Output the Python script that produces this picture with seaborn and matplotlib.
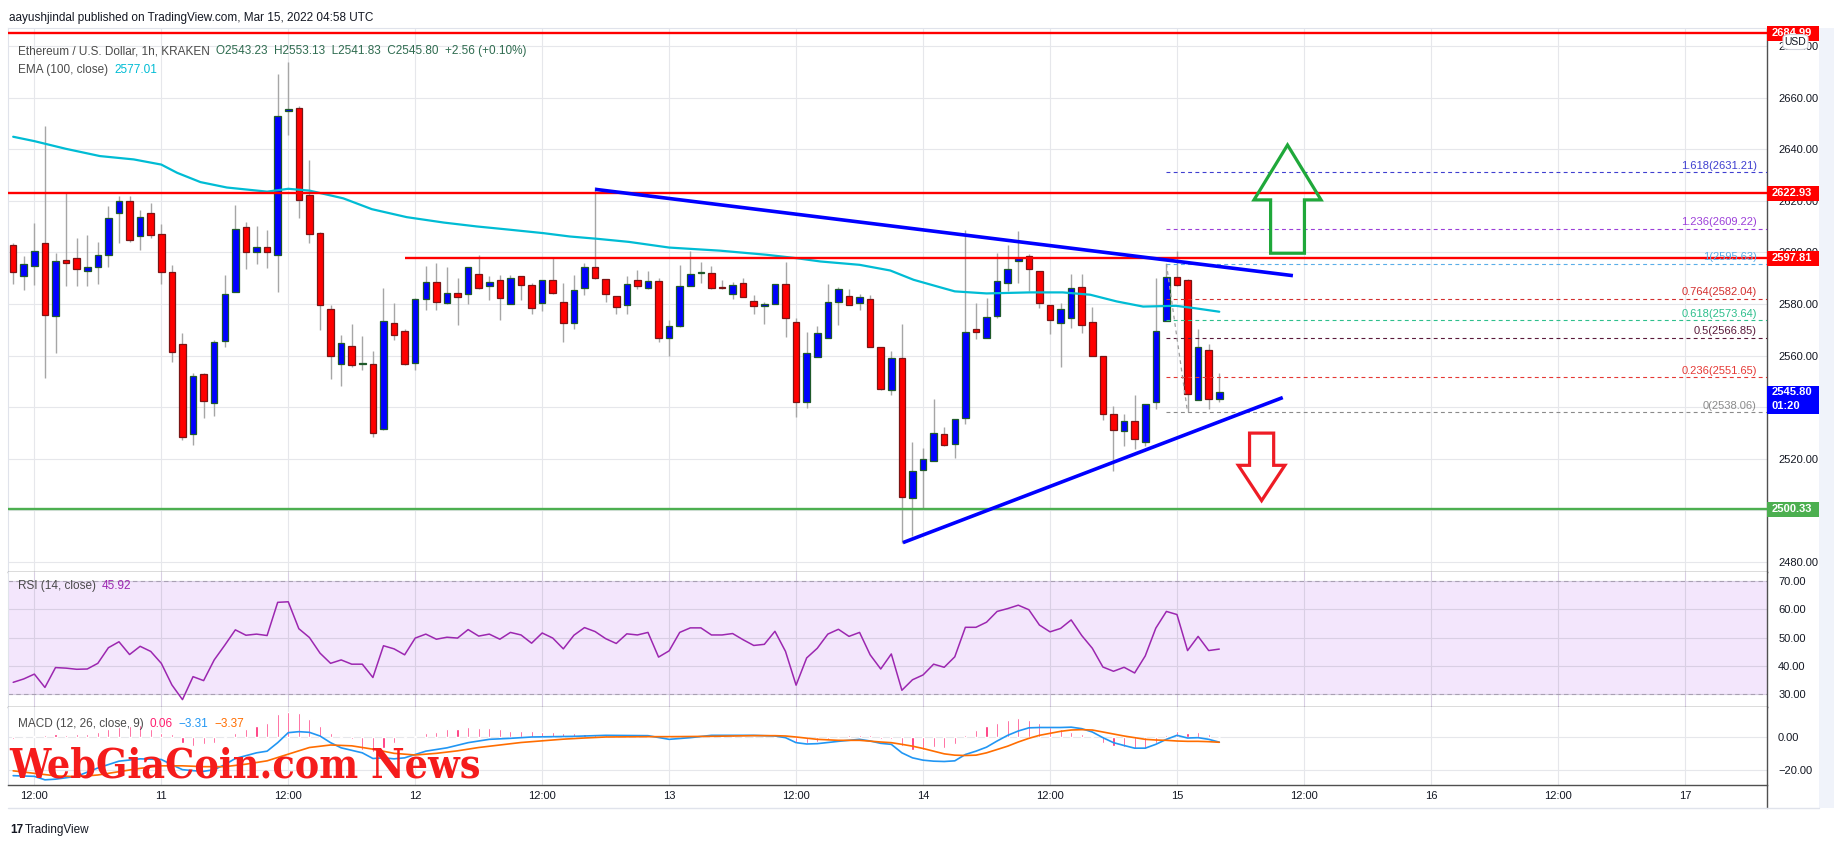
import matplotlib
matplotlib.use("Agg")
import numpy as np
import pandas as pd
import matplotlib.pyplot as plt
from matplotlib import font_manager
from matplotlib.lines import Line2D
from matplotlib.patches import Polygon, Rectangle, FancyBboxPatch
import seaborn as sns

W, H = 1834, 848

# -------------------------
# Data (ETH/USD 1h, Kraken) - hour index counted from Mar 10 00:00 UTC
# -------------------------
first_hour = 10

opens = [2602.7, 2590.9, 2594.7, 2603.5, 2575.3, 2596.9, 2597.9, 2592.9, 2594.4, 2599.1,
         2615.4, 2620.0, 2606.4, 2615.4, 2607.2, 2592.5, 2564.5, 2529.6, 2552.9, 2541.6,
         2565.6, 2584.7, 2609.9, 2600.1, 2602.2, 2599.1, 2654.8, 2656.1, 2622.4, 2607.5,
         2578.0, 2556.8, 2563.7, 2556.8, 2556.8, 2531.6, 2572.6, 2569.5, 2557.1, 2581.9,
         2588.5, 2580.2, 2584.2, 2583.8, 2591.6, 2586.9, 2589.2, 2580.0, 2590.8, 2587.3,
         2580.3, 2589.2, 2580.7, 2572.6, 2586.1, 2594.3, 2589.6, 2583.0, 2579.6, 2589.2,
         2586.1, 2588.8, 2566.8, 2571.4, 2586.9, 2592.0, 2592.0, 2586.5, 2583.8, 2588.1,
         2581.1, 2579.2, 2580.0, 2587.7, 2573.0, 2542.0, 2559.4, 2566.8, 2580.7, 2583.0,
         2580.3, 2581.9, 2563.3, 2546.5, 2559.0, 2504.8, 2515.5, 2519.0, 2529.6, 2525.7,
         2535.8, 2570.3, 2566.8, 2575.3, 2588.1, 2596.6, 2598.7, 2592.7, 2579.6, 2572.6,
         2574.5, 2586.5, 2573.0, 2559.8, 2537.3, 2530.7, 2534.6, 2526.5, 2542.0, 2573.4,
         2590.4, 2589.2, 2542.7, 2562.1, 2543.23]
highs = [2603.7, 2598.8, 2611.5, 2649.0, 2599.8, 2623.6, 2605.8, 2606.6, 2604.2, 2618.0,
         2621.8, 2622.1, 2616.3, 2619.0, 2611.0, 2595.2, 2568.8, 2553.3, 2553.3, 2566.2,
         2591.4, 2618.6, 2612.0, 2610.2, 2608.9, 2669.2, 2674.0, 2657.0, 2635.8, 2608.0,
         2579.6, 2568.1, 2572.3, 2567.4, 2561.9, 2586.4, 2580.5, 2570.4, 2582.3, 2594.8,
         2596.0, 2594.3, 2590.0, 2594.3, 2598.9, 2590.7, 2591.3, 2591.3, 2590.8, 2588.0,
         2589.2, 2597.8, 2588.1, 2591.2, 2595.8, 2625.5, 2589.6, 2583.0, 2590.9, 2593.3,
         2592.9, 2590.0, 2573.9, 2595.2, 2600.6, 2596.4, 2594.7, 2589.4, 2588.5, 2590.2,
         2583.4, 2580.8, 2587.7, 2596.4, 2574.5, 2569.1, 2571.3, 2587.8, 2586.5, 2586.0,
         2584.0, 2583.4, 2563.3, 2561.9, 2572.3, 2526.6, 2524.1, 2543.3, 2532.3, 2535.5,
         2608.8, 2580.3, 2582.4, 2599.8, 2603.0, 2608.4, 2599.5, 2592.7, 2579.6, 2580.3,
         2591.6, 2591.6, 2578.8, 2559.8, 2540.4, 2537.3, 2544.7, 2541.3, 2590.0, 2595.6,
         2600.5, 2589.6, 2570.3, 2564.4, 2553.13]
lows = [2587.6, 2585.4, 2587.2, 2551.3, 2561.0, 2586.9, 2586.9, 2586.9, 2587.7, 2594.2,
        2603.5, 2604.2, 2600.9, 2605.5, 2587.6, 2557.4, 2527.1, 2525.2, 2535.7, 2536.7,
        2563.2, 2584.7, 2593.6, 2595.4, 2593.9, 2584.6, 2645.4, 2613.3, 2603.6, 2570.0,
        2551.0, 2548.0, 2555.4, 2554.2, 2528.4, 2531.0, 2566.0, 2556.2, 2554.2, 2577.5,
        2577.5, 2580.0, 2571.7, 2580.0, 2586.0, 2581.4, 2573.9, 2580.0, 2581.4, 2576.3,
        2577.1, 2584.0, 2565.1, 2570.3, 2583.3, 2589.8, 2580.7, 2576.3, 2576.3, 2585.8,
        2586.0, 2565.1, 2560.0, 2571.0, 2586.9, 2588.1, 2586.0, 2585.8, 2581.9, 2582.7,
        2576.3, 2572.1, 2580.0, 2567.0, 2536.2, 2539.6, 2559.4, 2566.8, 2571.7, 2579.6,
        2577.5, 2563.3, 2546.5, 2544.8, 2487.2, 2490.0, 2500.3, 2519.0, 2524.8, 2520.1,
        2533.4, 2566.4, 2566.8, 2574.5, 2585.0, 2588.1, 2585.0, 2578.4, 2568.3, 2555.5,
        2570.6, 2568.6, 2559.8, 2535.0, 2515.2, 2525.0, 2523.9, 2525.0, 2539.3, 2573.4,
        2587.0, 2538.1, 2542.7, 2539.3, 2541.83]
closes = [2592.5, 2595.6, 2600.6, 2575.7, 2596.7, 2595.8, 2593.6, 2594.4, 2599.1, 2613.4,
          2620.0, 2604.9, 2613.8, 2606.8, 2592.5, 2561.4, 2528.3, 2552.1, 2542.4, 2565.3,
          2583.9, 2609.2, 2600.1, 2602.2, 2600.1, 2652.9, 2655.7, 2620.3, 2607.2, 2579.6,
          2559.8, 2564.8, 2556.2, 2556.9, 2530.1, 2573.4, 2567.9, 2556.7, 2581.9, 2588.5,
          2580.7, 2584.2, 2582.7, 2594.3, 2586.1, 2588.5, 2582.3, 2590.0, 2587.2, 2578.4,
          2589.2, 2584.2, 2572.6, 2585.4, 2594.3, 2590.0, 2583.8, 2578.7, 2587.7, 2586.9,
          2588.8, 2566.8, 2571.4, 2586.9, 2591.6, 2592.1, 2586.1, 2586.1, 2587.3, 2582.8,
          2579.2, 2580.0, 2587.7, 2574.5, 2542.0, 2561.0, 2568.7, 2580.7, 2585.8, 2579.6,
          2582.8, 2563.3, 2547.0, 2559.0, 2505.0, 2515.3, 2519.9, 2530.0, 2525.3, 2535.5,
          2569.1, 2569.1, 2574.9, 2588.8, 2593.5, 2597.8, 2593.5, 2580.3, 2573.8, 2578.0,
          2586.1, 2571.8, 2559.8, 2537.3, 2531.1, 2534.6, 2527.6, 2541.3, 2569.5, 2590.4,
          2587.2, 2545.2, 2563.3, 2543.1, 2545.80]

ema_hours = [10, 12, 15, 18.2, 21.4, 24, 25.5, 27.7, 30.2, 34, 36, 38, 41.2, 43.9, 47.2,
             50.7, 53.8, 57, 60.1, 62.6, 65.2, 68.2, 72, 76.8, 81.2, 84, 86.3, 90, 92.9,
             95.1, 97.6, 99, 102, 106.1, 109.2, 111.8, 114.3, 116.8, 119.9, 121.8, 124]
ema_values = [2644.9, 2643.2, 2640.2, 2637.4, 2636.1, 2634.1, 2630.9, 2627.3, 2625.2, 2623.6,
              2624.7, 2624.0, 2621.0, 2616.8, 2613.7, 2611.6, 2610.1, 2608.8, 2607.5, 2606.2,
              2605.3, 2604.1, 2601.9, 2600.7, 2599.1, 2597.8, 2596.5, 2595.2, 2593.0, 2589.4,
              2586.5, 2584.9, 2584.1, 2584.5, 2584.5, 2583.6, 2581.0, 2579.0, 2579.3, 2578.3,
              2577.0]

rsi_values = [34.2, 35.4, 37.1, 32.4, 39.4, 39.2, 38.8, 38.9, 40.9, 46.4,
              48.5, 44.0, 46.9, 45.1, 40.9, 33.3, 28.1, 36.2, 34.8, 42.1,
              47.3, 52.7, 50.8, 51.2, 50.7, 62.4, 62.6, 53.1, 50.0, 44.5,
              40.9, 42.1, 40.6, 40.6, 35.9, 47.1, 46.0, 43.9, 49.8, 51.2,
              49.4, 50.1, 49.8, 52.8, 50.5, 51.2, 49.4, 51.8, 50.9, 48.0,
              51.6, 49.8, 46.0, 50.8, 53.5, 52.1, 49.6, 47.9, 51.3, 50.9,
              51.8, 43.1, 45.3, 51.8, 53.4, 53.4, 50.9, 50.9, 51.4, 49.2,
              47.2, 47.6, 52.2, 45.1, 33.2, 42.8, 46.2, 51.2, 52.9, 50.4,
              51.8, 43.9, 38.9, 44.2, 31.4, 35.1, 36.8, 40.6, 39.5, 43.2,
              53.6, 53.6, 55.4, 59.2, 60.2, 61.4, 59.8, 54.4, 52.0, 53.2,
              56.2, 50.7, 46.2, 39.6, 38.1, 39.5, 37.5, 43.5, 53.3, 59.2,
              58.1, 45.4, 50.4, 45.4, 45.92]

macd_hist = [-1.6, -0.6, 0.4, 1.0, 1.4, 1.0, 1.4, 1.8, 2.8, 4.4,
             6.1, 6.5, 6.9, 4.8, 2.4, 1.4, -3.6, -5.7, -4.6, -4.0,
             -0.6, 2.4, 4.4, 6.5, 8.1, 13.5, 14.9, 14.1, 10.5, 6.5,
             2.4, 0.4, -1.6, -7.7, -9.3, -6.7, -3.6, -0.6, 0.4, 2.4,
             2.8, 4.4, 4.8, 5.7, 5.5, 5.3, 4.4, 3.6, 3.4, 3.4,
             3.0, 2.8, 2.4, 2.0, 1.6, 1.6, 1.0, 0.8, 0.8, 0.4,
             0.4, -0.4, -0.6, -0.2, 0.2, 0.6, 1.2, 1.2, 1.2, 0.4,
             0.1, -0.1, 0.4, -0.4, -3.6, -4.0, -3.2, -1.6, -0.2, 0.8,
             1.2, 0.8, -1.6, -1.6, -5.3, -7.7, -8.1, -6.3, -6.5, -4.6,
             1.0, 3.8, 6.3, 8.5, 10.3, 11.1, 10.3, 8.5, 6.1, 4.4,
             3.0, 1.4, -0.6, -4.0, -5.7, -6.3, -7.1, -7.1, -3.6, 1.0,
             3.6, 2.4, 2.6, 1.4, 0.06]

macd_hours = [10, 12, 13, 14, 16, 18, 20, 22, 24, 25, 26, 27, 28, 29, 30, 31, 33, 34, 35, 36,
              37, 38, 39, 40, 41, 43, 44, 45, 46, 47, 48, 49, 51, 53, 55, 57, 59, 61, 63, 65,
              66, 70, 72, 74, 76, 80, 82, 83, 84, 85, 86, 88, 90, 91, 92, 93, 94, 95, 96, 97,
              98, 99, 100, 101, 102, 103, 104, 105, 106, 107, 108, 109, 110, 111, 112, 113,
              114, 115, 116, 117, 118, 119, 120, 121, 122, 123, 124]
macd_line = [-23.4, -23.8, -25.9, -25.5, -23.8, -18.8, -14.7, -13.3, -13.7, -16.8, -19.8,
             -20.4, -20.8, -19.8, -16.8, -13.1, -9.7, -8.7, -3.6, 2.4, 3.0, 2.6, 0.4, -3.6,
             -6.7, -9.7, -13.1, -12.7, -13.3, -12.7, -10.7, -8.7, -6.7, -3.6, -1.6, -1.0,
             -0.2, 0.0, 0.2, 0.6, 0.8, 0.6, -1.6, -0.6, 0.8, 0.8, 0.4, -0.6, -3.6, -4.4,
             -4.2, -2.8, -1.6, -2.6, -4.0, -4.6, -9.7, -12.7, -14.1, -14.7, -14.9, -14.5,
             -10.7, -8.7, -6.3, -2.6, 0.8, 3.4, 5.3, 5.5, 5.5, 5.5, 5.7, 4.8, 2.8, -0.6,
             -3.6, -5.3, -6.9, -6.9, -4.6, -1.6, 0.8, -0.8, -0.6, -1.6, -3.31]

signal_hours = [10, 12, 14, 16, 18, 20, 22, 24, 26, 28, 30, 32, 34, 36, 38, 40, 42, 44, 46,
                48, 50, 52, 54, 56, 58, 60, 62, 64, 66, 70, 72, 76, 80, 82, 83, 84, 86, 88,
                90, 92, 93, 94, 95, 96, 97, 98, 99, 100, 101, 102, 103, 104, 105, 106, 107,
                108, 109, 110, 111, 112, 113, 114, 115, 116, 117, 118, 119, 120, 121, 122,
                123, 124]
signal_line = [-20.5, -22.0, -23.5, -24.0, -23.0, -21.0, -19.0, -17.5, -17.5, -18.0, -18.0,
               -16.5, -14.5, -10.5, -6.5, -5.0, -5.5, -7.5, -10.0, -11.0, -10.0, -8.5, -6.5,
               -5.0, -3.5, -2.5, -1.5, -0.8, -0.2, 0.0, 0.0, 0.2, 0.6, 0.6, 0.4, -0.2, -1.6,
               -2.2, -2.2, -3.2, -3.6, -4.6, -5.7, -7.1, -8.7, -10.3, -11.1, -11.3, -11.1,
               -9.7, -7.7, -5.7, -3.2, -1.0, 0.8, 2.0, 3.2, 4.0, 4.2, 4.0, 2.8, 1.6, 0.4,
               -0.6, -1.6, -2.0, -2.2, -2.6, -2.8, -2.8, -3.0, -3.37]

# Drawings on the chart
resistance_levels = [2684.99, 2622.93]
range_top = 2597.81
range_top_start = 47
support_level = 2500.33
upper_trend = ([65, 130.96], [2624.5, 2591.0])
lower_trend = ([94.1, 130.0], [2487.4, 2543.7])

fib_levels = ["1.618", "1.236", "1", "0.764", "0.618", "0.5", "0.236", "0"]
fib_prices = [2631.21, 2609.22, 2595.63, 2582.04, 2573.64, 2566.85, 2551.65, 2538.06]
fib_colors = ["#3f3fd0", "#9c3fd9", "#5aaee8", "#d32f2f", "#2dbf8c", "#5a1a3a", "#e53935", "#8a8a8a"]
fib_start = 119
fib_swing = ([119, 121], [2595.63, 2538.06])

up_arrow = dict(center=130.45, tip=2641.7, head=2620.4, tail=2599.7, head_half=3.17, shaft_half=1.6)
down_arrow = dict(center=128.0, tip=2503.7, head=2517.4, tail=2529.9, head_half=2.2, shaft_half=1.14)

price_ticks = [2480, 2500, 2520, 2540, 2560, 2580, 2600, 2620, 2640, 2660, 2680]
hidden_price_ticks = [2500, 2540]  # fully covered by the price tags
time_ticks = [12, 24, 36, 48, 60, 72, 84, 96, 108, 120, 132, 144, 156, 168]
time_labels = ["12:00", "11", "12:00", "12", "12:00", "13", "12:00", "14",
               "12:00", "15", "12:00", "16", "12:00", "17"]

# -------------------------
# Layout (pixels from the top-left of the screenshot)
# -------------------------
X_LEFT, AXIS_X, TAG_RIGHT = 8, 1767, 1819
MAIN_TOP, MAIN_BOTTOM, RSI_BOTTOM, MACD_BOTTOM = 28, 572, 707, 785
XLIM = (9.51, 175.77)

sns.set_theme(style="white")
plt.rcParams["font.family"] = ["Liberation Sans", "DejaVu Sans"]

TEXT = "#131722"
GRID = "#e6e7eb"
DARK = "#505050"


def panel(fig, top, bottom):
    return fig.add_axes([X_LEFT / W, 1 - bottom / H, (AXIS_X - X_LEFT) / W, (bottom - top) / H])


def style_axis(ax):
    ax.set_xlim(*XLIM)
    ax.set_xticks(time_ticks)
    ax.set_axisbelow(True)
    ax.grid(True, color=GRID, linewidth=0.8)
    ax.yaxis.tick_right()
    ax.tick_params(axis="y", length=0, pad=8, labelsize=8, labelcolor=TEXT)
    ax.tick_params(axis="x", length=0, labelbottom=False)
    for side in ("top", "left"):
        ax.spines[side].set_color("#e0e3eb")
        ax.spines[side].set_linewidth(0.8)
    for side in ("right", "bottom"):
        ax.spines[side].set_color(DARK)
        ax.spines[side].set_linewidth(1.0)
    ax.set_xlabel("")
    ax.set_ylabel("")


def draw_runs(fig, renderer, x_px, y_px, runs, size=8.5, gap=6):
    x = x_px
    for text, color in runs:
        t = fig.text(x / W, 1 - y_px / H, text, color=color, fontsize=size, va="center", ha="left")
        x += t.get_window_extent(renderer=renderer).width + gap


def price_tag(fig, ax, price, lines, color, above=7.5, below=7.5):
    yd = ax.transData.transform((XLIM[0], price))[1]
    fig.add_artist(Rectangle((AXIS_X / W, (yd - below) / H), (TAG_RIGHT - AXIS_X) / W,
                             (above + below) / H, transform=fig.transFigure,
                             facecolor=color, edgecolor="none", zorder=6))
    for i, line in enumerate(lines):
        fig.text((AXIS_X + 5) / W, (yd - 14 * i) / H, line, color="white", fontsize=8,
                 fontweight="bold", va="center", ha="left", zorder=7)


def arrow_points(center, tip, head, tail, head_half, shaft_half):
    return [(center, tip), (center + head_half, head), (center + shaft_half, head),
            (center + shaft_half, tail), (center - shaft_half, tail),
            (center - shaft_half, head), (center - head_half, head)]


def watermark_font():
    def is_bold(f):
        w = f.weight if isinstance(f.weight, int) else font_manager.weight_dict.get(f.weight, 400)
        return w >= 600
    fonts = font_manager.fontManager.ttflist
    for name, stretch in [("DejaVu Serif", "condensed"), ("Liberation Sans Narrow", "normal"),
                          ("DejaVu Sans", "condensed")]:
        for f in fonts:
            if f.name == name and is_bold(f) and (stretch == "normal" or "condensed" in str(f.stretch)):
                return name, stretch
    return "DejaVu Serif", "normal"


def main():
    hours = np.arange(first_hour, first_hour + len(closes))
    candles = pd.DataFrame({"hour": hours, "open": opens, "high": highs,
                            "low": lows, "close": closes, "rsi": rsi_values, "hist": macd_hist})
    ema = pd.DataFrame({"hour": ema_hours, "ema": ema_values})
    macd = pd.DataFrame({"hour": macd_hours, "macd": macd_line})
    signal = pd.DataFrame({"hour": signal_hours, "signal": signal_line})

    fig = plt.figure(figsize=(W / 100, H / 100), dpi=100)
    fig.patch.set_facecolor("white")

    ax = panel(fig, MAIN_TOP, MAIN_BOTTOM)
    ax_rsi = panel(fig, MAIN_BOTTOM, RSI_BOTTOM)
    ax_macd = panel(fig, RSI_BOTTOM, MACD_BOTTOM)

    # -------------------------
    # Price panel
    # -------------------------
    style_axis(ax)
    ax.set_ylim(2476.0, 2687.1)
    ax.set_yticks(price_ticks)
    ax.set_yticklabels(["" if v in hidden_price_ticks else f"{v:.2f}" for v in price_ticks])

    up = candles["close"] >= candles["open"]
    body_bottom = candles[["open", "close"]].min(axis=1)
    body_height = (candles["close"] - candles["open"]).abs().clip(lower=0.35)
    ax.vlines(candles["hour"], candles["low"], candles["high"], color="#a6a6a6", linewidth=1.0, zorder=2)
    ax.bar(candles["hour"], body_height, bottom=body_bottom, width=0.62,
           color=np.where(up, "#0000ff", "#ff0000"),
           edgecolor=np.where(up, "#1f5a2a", "#7a1515"), linewidth=0.9, zorder=3)

    sns.lineplot(data=ema, x="hour", y="ema", ax=ax, color="#00bcd4", linewidth=1.6, zorder=3.5)

    for level in resistance_levels:
        ax.axhline(level, color="#ff0000", linewidth=1.7, zorder=4)
    ax.hlines(range_top, range_top_start, XLIM[1], color="#ff0000", linewidth=1.7, zorder=4)
    ax.axhline(support_level, color="#4caf50", linewidth=1.7, zorder=4)

    ax.plot(*upper_trend, color="#0000ff", linewidth=2.6, solid_capstyle="butt", zorder=4.5)
    ax.plot(*lower_trend, color="#0000ff", linewidth=2.6, solid_capstyle="butt", zorder=4.5)

    for lvl, price, color in zip(fib_levels, fib_prices, fib_colors):
        ax.hlines(price, fib_start, XLIM[1], color=color, linewidth=0.8,
                  linestyles=(0, (3.5, 3)), zorder=4)
        ax.annotate(f"{lvl}({price:.2f})", xy=(0.9943, price), xycoords=ax.get_yaxis_transform(),
                    xytext=(0, 1), textcoords="offset points", ha="right", va="bottom",
                    fontsize=8, color=color, zorder=5)
    ax.plot(*fib_swing, color="#9e9e9e", linewidth=0.9, linestyle=(0, (3, 3)), zorder=4)

    ax.add_patch(Polygon(arrow_points(**up_arrow), closed=True, fill=False,
                         edgecolor="#1fa83a", linewidth=2.3, joinstyle="miter", zorder=5))
    ax.add_patch(Polygon(arrow_points(**down_arrow), closed=True, fill=False,
                         edgecolor="#ee1c25", linewidth=2.3, joinstyle="miter", zorder=5))

    # -------------------------
    # RSI panel
    # -------------------------
    style_axis(ax_rsi)
    ax_rsi.spines["top"].set_visible(False)
    ax_rsi.set_ylim(25.5, 73.1)
    ax_rsi.set_yticks([30, 40, 50, 60, 70])
    ax_rsi.set_yticklabels(["30.00", "40.00", "50.00", "60.00", "70.00"])
    ax_rsi.grid(True, color="#d9cfe4", linewidth=0.8)
    ax_rsi.axhspan(30, 70, color="#f3e6fc", zorder=0.2, linewidth=0)
    for level in (30, 70):
        ax_rsi.axhline(level, color="#a8a0b2", linewidth=0.8, linestyle=(0, (4, 3)), zorder=1)
    sns.lineplot(data=candles, x="hour", y="rsi", ax=ax_rsi, color="#9c27b0", linewidth=1.1)

    # -------------------------
    # MACD panel
    # -------------------------
    style_axis(ax_macd)
    ax_macd.spines["top"].set_visible(False)
    ax_macd.set_ylim(-29.0, 17.8)
    ax_macd.set_yticks([-20, 0])
    ax_macd.set_yticklabels(["\u221220.00", "0.00"])
    ax_macd.bar(candles["hour"], candles["hist"], width=0.2, color="#ff1e6e", zorder=2)
    sns.lineplot(data=macd, x="hour", y="macd", ax=ax_macd, color="#2196f3", linewidth=1.2, zorder=3)
    sns.lineplot(data=signal, x="hour", y="signal", ax=ax_macd, color="#ff6d00", linewidth=1.2, zorder=3)
    ax_macd.set_xticklabels(time_labels)
    ax_macd.tick_params(axis="x", labelbottom=True, length=0, pad=4, labelsize=8, labelcolor=TEXT)
    for a in (ax, ax_rsi, ax_macd):
        a.set_xlabel("")
        a.set_ylabel("")

    # -------------------------
    # Frame pieces around the panels
    # -------------------------
    fig.add_artist(Rectangle((TAG_RIGHT / W, 1 - 808 / H), (W - TAG_RIGHT) / W, (808 - MAIN_TOP) / H,
                             transform=fig.transFigure, facecolor="#f0f3fa", edgecolor="none", zorder=0))
    fig.add_artist(Line2D([AXIS_X / W] * 2, [1 - MACD_BOTTOM / H, 1 - 808 / H],
                          transform=fig.transFigure, color=DARK, linewidth=1.0))
    fig.add_artist(Line2D([X_LEFT / W, TAG_RIGHT / W], [1 - 808 / H] * 2,
                          transform=fig.transFigure, color="#e0e3eb", linewidth=1.0))

    # price tags on the right axis
    price_tag(fig, ax, 2684.99, ["2684.99"], "#ff0000")
    price_tag(fig, ax, 2622.93, ["2622.93"], "#ff0000")
    price_tag(fig, ax, 2597.81, ["2597.81"], "#ff0000")
    price_tag(fig, ax, 2545.80, ["2545.80", "01:20"], "#0000ff", above=6.5, below=22)
    price_tag(fig, ax, 2500.33, ["2500.33"], "#4caf50")
    fig.add_artist(FancyBboxPatch((1783 / W, 1 - 49.5 / H), 25 / W, 15 / H,
                                  boxstyle="round,pad=0,rounding_size=0.004",
                                  transform=fig.transFigure, facecolor="white",
                                  edgecolor="#d1d4dc", linewidth=0.8, zorder=8))
    fig.text(1795.5 / W, 1 - 42 / H, "USD", fontsize=7.5, color=TEXT, ha="center", va="center", zorder=9)

    # -------------------------
    # Text overlays
    # -------------------------
    renderer = fig.canvas.get_renderer()
    fig.text(9 / W, 1 - 18 / H, "aayushjindal published on TradingView.com, Mar 15, 2022 04:58 UTC",
             fontsize=8.5, color=TEXT, va="center")
    draw_runs(fig, renderer, 18, 51, [
        ("Ethereum / U.S. Dollar, 1h, KRAKEN", "#4a4a4a"),
        ("O2543.23  H2553.13  L2541.83  C2545.80  +2.56 (+0.10%)", "#2e6b4f"),
    ])
    draw_runs(fig, renderer, 18, 70, [("EMA (100, close)", "#4a4a4a"), ("2577.01", "#00bcd4")])
    draw_runs(fig, renderer, 18, 586, [("RSI (14, close)", "#4a4a4a"), ("45.92", "#9c27b0")])
    draw_runs(fig, renderer, 18, 724, [("MACD (12, 26, close, 9)", "#4a4a4a"), ("0.06", "#ff1e6e"),
                                      ("\u22123.31", "#2196f3"), ("\u22123.37", "#ff6d00")])

    wm_family, wm_stretch = watermark_font()
    wm = fig.text(9 / W, 1 - 777 / H, "WebGiaCoin.com News", fontsize=40, color="#f51c1c",
                  fontfamily=wm_family, fontstretch=wm_stretch, fontweight="bold",
                  va="baseline", ha="left", zorder=10)
    width = wm.get_window_extent(renderer=renderer).width
    wm.set_fontsize(40 * 472 / width)

    fig.text(10 / W, 1 - 830 / H, "17", fontsize=8.5, fontweight="bold", color="#131722", va="center")
    fig.text(25 / W, 1 - 830 / H, "TradingView", fontsize=8.5, color="#131722", va="center")

    fig.savefig("out.png", dpi=100)
    plt.close(fig)


if __name__ == "__main__":
    main()
